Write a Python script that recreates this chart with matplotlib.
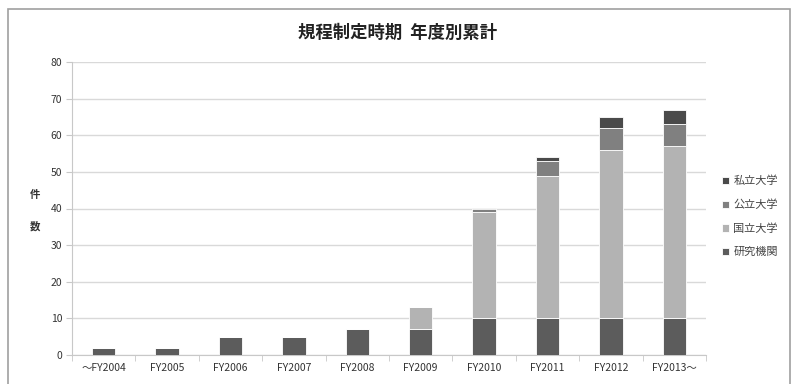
import matplotlib
matplotlib.use('Agg')
import matplotlib.pyplot as plt
import numpy as np
from matplotlib.patches import Rectangle

plt.rcParams['font.family'] = ['Noto Sans CJK JP', 'DejaVu Sans']

# cumulative counts by fiscal year
years = ['～FY2004', 'FY2005', 'FY2006', 'FY2007', 'FY2008',
         'FY2009', 'FY2010', 'FY2011', 'FY2012', 'FY2013～']
research = [2, 2, 5, 5, 7, 7, 10, 10, 10, 10]      # 研究機関
national = [0, 0, 0, 0, 0, 6, 29, 39, 46, 47]      # 国立大学
public = [0, 0, 0, 0, 0, 0, 1, 4, 6, 6]            # 公立大学
private = [0, 0, 0, 0, 0, 0, 0, 1, 3, 4]           # 私立大学

series = [
    ('研究機関', research, '#5c5c5c'),
    ('国立大学', national, '#b3b3b3'),
    ('公立大学', public, '#808080'),
    ('私立大学', private, '#4a4a4a'),
]

fig = plt.figure(figsize=(7.95, 3.84), dpi=100)
fig.patches.append(Rectangle((8 / 795, -0.01), 790 / 795 - 8 / 795, 1 - 9 / 384 + 0.01,
                             transform=fig.transFigure, fill=False,
                             edgecolor='#a0a0a0', linewidth=1.2))
ax = fig.add_axes([72 / 795, 1 - 355 / 384, (706 - 72) / 795, (355 - 62) / 384])

x = np.arange(len(years))
bottom = np.zeros(len(years))
handles = []
for name, vals, color in series:
    vals = np.array(vals, dtype=float)
    b = ax.bar(x, vals, width=0.37, bottom=bottom, color=color,
               edgecolor='white', linewidth=0.6, label=name, zorder=3)
    handles.append(b)
    bottom += vals

ax.set_xlim(-0.5, len(years) - 0.5)
ax.set_ylim(0, 80)
ax.set_yticks(range(0, 81, 10))
ax.yaxis.grid(True, color='#d9d9d9', linewidth=1.0, zorder=0)
ax.set_axisbelow(True)

ax.set_xticks(x)
ax.set_xticklabels(years, fontsize=7.5, color='#333333')
ax.set_xticks(np.arange(-0.5, len(years), 1), minor=True)
ax.tick_params(axis='x', which='major', length=0, pad=6)
ax.tick_params(axis='x', which='minor', length=4, color='#c8c8c8')
ax.tick_params(axis='y', length=4, color='#c8c8c8', labelsize=7.5, labelcolor='#333333', pad=3)

for s in ['top', 'right']:
    ax.spines[s].set_visible(False)
ax.spines['left'].set_color('#c8c8c8')
ax.spines['bottom'].set_color('#c8c8c8')

fig.text(35 / 795, 1 - 195 / 384, '件', fontsize=7.5, fontweight='bold',
         ha='center', va='center', color='#333333')
fig.text(35 / 795, 1 - 226 / 384, '数', fontsize=7.5, fontweight='bold',
         ha='center', va='center', color='#333333')

fig.text(0.5, 1 - 33 / 384, '規程制定時期  年度別累計', fontsize=12.5, fontweight='bold',
         ha='center', va='center', color='#222222')

leg = ax.legend(handles[::-1], [h.get_label() for h in handles[::-1]],
                loc='center left', bbox_to_anchor=(1.01, 0.473), frameon=False,
                fontsize=8, handlelength=0.6, handleheight=0.6,
                handletextpad=0.4, labelspacing=1.2)
for t in leg.get_texts():
    t.set_color('#444444')

fig.savefig('out.png', dpi=100)
